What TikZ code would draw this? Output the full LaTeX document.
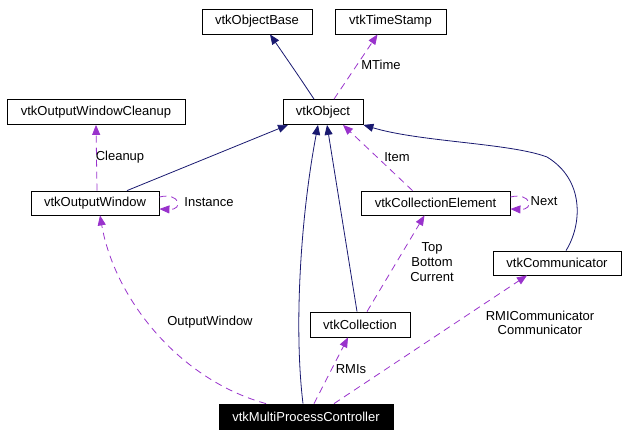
\documentclass[tikz,border=0pt]{standalone}
\usepackage{fontspec}
\setmainfont{Liberation Sans}
\usetikzlibrary{arrows.meta}
\definecolor{dxnavy}{RGB}{25,25,112}
\definecolor{dxorchid}{RGB}{153,50,204}

\begin{document}
\begin{tikzpicture}[x=1pt,y=-1pt,line width=0.8pt,
    font=\fontsize{13}{15}\selectfont,
    >={Triangle[length=10pt,width=8pt]},
    cls/.style={draw,rectangle,inner sep=0pt,minimum height=25pt},
    inh/.style={dxnavy,->},
    use/.style={dxorchid,->,dash pattern=on 7pt off 5pt}]
  \useasboundingbox (0,0) rectangle (628,436);
  \node[cls,minimum width=110pt] (base) at (257,21.5) {vtkObjectBase};
  \node[cls,minimum width=111pt] (stamp) at (390.5,21.5) {vtkTimeStamp};
  \node[cls,minimum width=178pt] (cleanup) at (96,112) {vtkOutputWindowCleanup};
  \node[cls,minimum width=80pt] (object) at (323,112) {vtkObject};
  \node[cls,minimum width=128pt,minimum height=24pt] (outwin) at (95,203) {vtkOutputWindow};
  \node[cls,minimum width=149pt,minimum height=24pt] (elem) at (435.5,203) {vtkCollectionElement};
  \node[cls,minimum width=128pt,minimum height=24pt] (comm) at (557,263) {vtkCommunicator};
  \node[cls,minimum width=100pt] (coll) at (360,324.5) {vtkCollection};
  \node[cls,minimum width=174pt,fill=black,text=white] (mpc) at (306,416.5) {vtkMultiProcessController};

  \draw[inh] ([xshift=-9pt]object.north) .. controls (300,78) .. ([xshift=13pt]base.south);
  \draw[use] ([xshift=11pt]object.north) -- ([xshift=-13pt]stamp.south);
  \node (mtime) at (381,65) {MTime};
  \draw[inh] ([xshift=32pt]outwin.north) -- ([xshift=-35pt]object.south);
  \draw[use] ([xshift=2pt]outwin.north) -- (cleanup.south);
  \node (cleanuplbl) at (120,157) {Cleanup};
  \draw[use] ([yshift=6pt]outwin.east) .. controls (180,192) and (184,210) .. ([yshift=-6pt]outwin.east);
  \node (instance) at (209,202) {Instance};
  \draw[use] ([xshift=-23pt]elem.north) -- ([xshift=20pt]object.south);
  \node (item) at (397,157) {Item};
  \draw[use] ([yshift=6pt]elem.east) .. controls (531,192) and (535,210) .. ([yshift=-6pt]elem.east);
  \node (next) at (544,201) {Next};
  \draw[inh] ([xshift=9pt]comm.north) .. controls (582,225) and (585,180) .. (547,157)
    .. controls (510,143) and (420,142) .. (object.south east);
  \draw[inh] ([xshift=-3pt]coll.north) -- ([xshift=4pt]object.south);
  \draw[inh] ([xshift=-3pt]mpc.north) .. controls (294,330) and (300,220) .. ([xshift=-5pt]object.south);
  \draw[use] ([xshift=-40pt]mpc.north) .. controls (180,380) and (115,300) .. ([xshift=5pt]outwin.south);
  \node (outwinlbl) at (210,322) {OutputWindow};
  \draw[use] ([xshift=8pt]mpc.north) -- ([xshift=-12pt]coll.south);
  \node (rmis) at (351,369) {RMIs};
  \draw[use] ([xshift=7pt]coll.north) -- ([xshift=-11pt]elem.south);
  \node[align=center] (tbc) at (432,262) {Top\\Bottom\\Current};
  \draw[use] ([xshift=28pt]mpc.north) -- ([xshift=-30pt]comm.south);
  \node[align=center,font=\fontsize{13}{14}\selectfont] (commlbl) at (540,323) {RMICommunicator\\Communicator};
\end{tikzpicture}
\end{document}
